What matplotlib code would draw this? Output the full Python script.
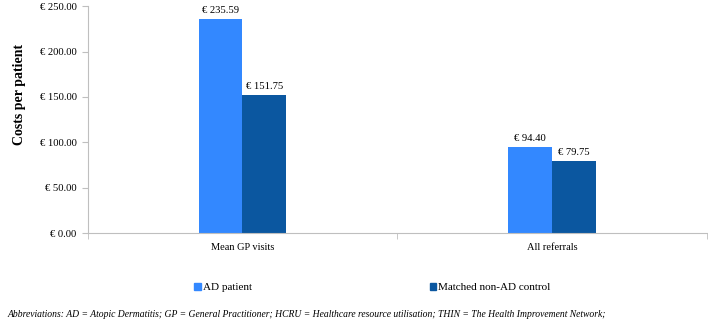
import numpy as np
import matplotlib.pyplot as plt
from matplotlib.patches import Patch

categories = ['Mean GP visits', 'All referrals']
ad_patient = [235.59, 94.40]
non_ad_control = [151.75, 79.75]
series_names = ['AD patient', 'Matched non-AD control']
yticks = [0, 50, 100, 150, 200, 250]

c_ad = '#3388ff'
c_ctrl = '#0b57a0'
serif = ['Liberation Serif', 'DejaVu Serif']

fig = plt.figure(figsize=(7.08, 3.22), dpi=100)
ax = fig.add_axes([0.124, 0.276, 0.874, 0.705])

x = np.arange(len(categories))
w = 0.142
b1 = ax.bar(x - w / 2, ad_patient, w, color=c_ad)
b2 = ax.bar(x + w / 2, non_ad_control, w, color=c_ctrl)

for bars in (b1, b2):
    ax.bar_label(bars, labels=['\u20ac %.2f' % v for v in bars.datavalues],
                 padding=3, fontsize=7.7, family=serif)

ax.set_xlim(-0.5, 1.5)
ax.set_ylim(0, 250)
ax.set_yticks(yticks)
ax.set_yticklabels(['\u20ac %.2f' % v for v in yticks], family=serif, fontsize=7.7)
ax.set_xticks(x)
ax.set_xticklabels(categories, family=serif, fontsize=7.5)
ax.tick_params(axis='x', length=0, pad=7)
ax.set_xticks([-0.5, 0.5, 1.5], minor=True)
ax.tick_params(axis='x', which='minor', length=4, color='#bfbfbf')
ax.tick_params(axis='y', length=4, color='#bfbfbf', pad=4)

for s in ['top', 'right']:
    ax.spines[s].set_visible(False)
for s in ['left', 'bottom']:
    ax.spines[s].set_color('#bfbfbf')

ax.set_ylabel('Costs per patient', family=serif, fontsize=10, fontweight='bold')
ax.yaxis.set_label_coords(-0.10, 0.61)

handles = [Patch(color=c_ad), Patch(color=c_ctrl)]
fig.legend(handles, series_names, loc='center', bbox_to_anchor=(0.526, 0.108), ncol=2,
           frameon=False, prop={'family': serif, 'size': 8},
           handlelength=0.6, handleheight=0.6, handletextpad=0.2, columnspacing=16)

fig.text(0.01, 0.016, 'Abbreviations: AD = Atopic Dermatitis; GP = General Practitioner; '
         'HCRU = Healthcare resource utilisation; THIN = The Health Improvement Network;',
         family=serif, style='italic', fontsize=6.9)

fig.savefig('out.png', dpi=100)
